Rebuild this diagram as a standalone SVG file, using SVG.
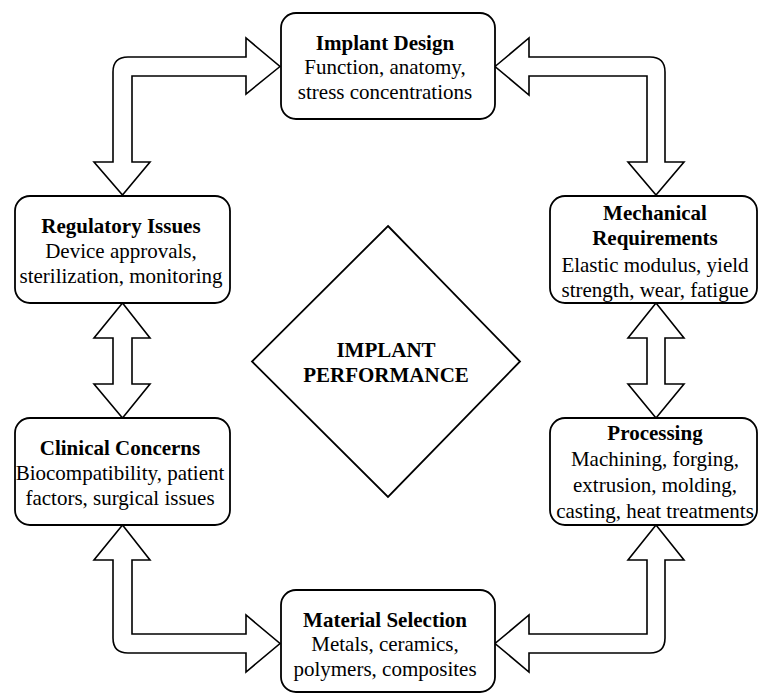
<svg xmlns="http://www.w3.org/2000/svg" width="760" height="695" viewBox="0 0 760 695">
<style>
.box{fill:#fff;stroke:#000;stroke-width:1.8}
.arr{fill:#fff;stroke:#000;stroke-width:1.6;stroke-linejoin:miter}
text{font-family:'Liberation Serif','Times New Roman',Times,'DejaVu Serif',serif;font-size:21px;fill:#000;text-anchor:middle}
.t{font-weight:bold}
</style>
<rect width="760" height="695" fill="#fff"/>
<g id="connectors">
<path class="arr" d="M280,66.5 L246,94 L246,76 L132,76 L132,162 L150,162 L122.5,195 L94,162 L113,162 L113,72 Q113,57 128,57 L246,57 L246,38 Z"/>
<path class="arr" d="M495,66.5 L529,38 L529,57 L650,57 Q665,57 665,72 L665,162 L684,162 L656,195 L628,162 L647,162 L647,76 L529,76 L529,95 Z"/>
<path class="arr" d="M122.5,303 L150,338 L132,338 L132,384 L150,384 L122.5,418 L94,384 L113,384 L113,338 L94,338 Z"/>
<path class="arr" d="M656,303 L684,338 L665,338 L665,384 L684,384 L656,418 L628,384 L647,384 L647,338 L628,338 Z"/>
<path class="arr" d="M122.5,525 L150,560 L132,560 L132,634 L246,634 L246,615 L280,643.5 L246,672 L246,653 L128,653 Q113,653 113,638 L113,560 L94,560 Z"/>
<path class="arr" d="M656,525 L684,560 L665,560 L665,638 Q665,653 650,653 L529,653 L529,672 L495,643.5 L529,615 L529,634 L647,634 L647,560 L628,560 Z"/>
</g>
<g id="implant-design">
<rect class="box" x="281" y="13" width="214" height="106" rx="15"/>
<text class="t" x="385" y="50" font-family="Liberation Serif, serif">Implant Design</text>
<text x="385" y="74">Function, anatomy,</text>
<text x="385" y="99">stress concentrations</text>
</g>
<g id="regulatory-issues">
<rect class="box" x="15" y="196" width="215" height="107" rx="15"/>
<text class="t" x="121" y="233">Regulatory Issues</text>
<text x="121" y="258">Device approvals,</text>
<text x="121" y="283">sterilization, monitoring</text>
</g>
<g id="mechanical-requirements">
<rect class="box" x="550" y="196" width="207" height="107" rx="15"/>
<text class="t" x="655" y="220">Mechanical</text>
<text class="t" x="655" y="245">Requirements</text>
<text x="655" y="272">Elastic modulus, yield</text>
<text x="655" y="297">strength, wear, fatigue</text>
</g>
<g id="implant-performance">
<polygon class="box" points="388,226 520,361.5 388,497 252,361.5"/>
<text class="t" x="386" y="357">IMPLANT</text>
<text class="t" x="386" y="382">PERFORMANCE</text>
</g>
<g id="clinical-concerns">
<rect class="box" x="15" y="418" width="215" height="107" rx="15"/>
<text class="t" x="120" y="455">Clinical Concerns</text>
<text x="120" y="480">Biocompatibility, patient</text>
<text x="120" y="505">factors, surgical issues</text>
</g>
<g id="processing">
<rect class="box" x="550" y="418" width="207" height="107" rx="15"/>
<text class="t" x="655" y="440">Processing</text>
<text x="655" y="466">Machining, forging,</text>
<text x="655" y="492">extrusion, molding,</text>
<text x="655" y="518">casting, heat treatments</text>
</g>
<g id="material-selection">
<rect class="box" x="281" y="590" width="214" height="102" rx="15"/>
<text class="t" x="385" y="627">Material Selection</text>
<text x="385" y="651">Metals, ceramics,</text>
<text x="385" y="676">polymers, composites</text>
</g>
</svg>
